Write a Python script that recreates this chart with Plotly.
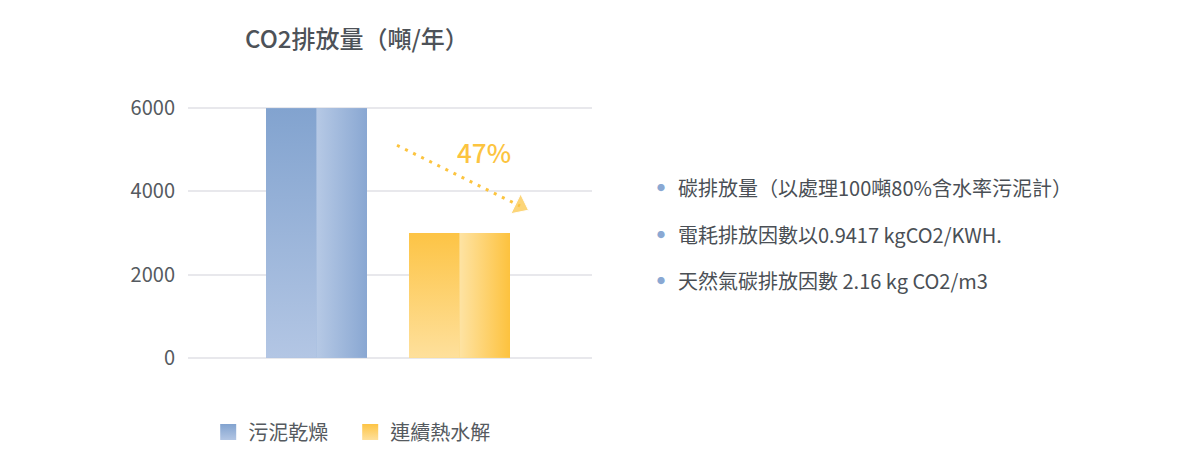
import plotly.graph_objects as go

# -- data
methods = ['污泥乾燥', '連續熱水解']
emissions = [6000, 3000]
bar_centers = [-0.715, 0.715]
bar_width = 1.01
y_ticks = [0, 2000, 4000, 6000]
reduction_label = '47%'
arrow_x = [0.09, 1.32]
arrow_y = [5110, 3650]
label_pos = (0.96, 4950)
notes = [
    '碳排放量（以處理100噸80%含水率污泥計）',
    '電耗排放因數以0.9417 kgCO2/KWH.',
    '天然氣碳排放因數 2.16 kg CO2/m3',
]

# -- colours: (legend, left top, left bottom, right left edge, right right edge)
palettes = [
    ('#97b2d9', '#82a3cf', '#b3c6e4', '#b6c9e5', '#89a7d2'),
    ('#fdd066', '#fdc445', '#fee09c', '#fee3a3', '#fdc23e'),
]

font_family = 'Noto Sans CJK TC, Noto Sans, sans-serif'
text_grey = '#555a60'

fig = go.Figure()

# base bars
for name, val, cx, pal in zip(methods, emissions, bar_centers, palettes):
    fig.add_trace(go.Bar(
        x=[cx], y=[val], width=bar_width, name=name, showlegend=False,
        marker=dict(color=pal[0], line=dict(width=0)),
        hoverinfo='skip'
    ))

# gradient halves drawn on top of each bar
for name, val, cx, pal in zip(methods, emissions, bar_centers, palettes):
    left, mid, right = cx - bar_width / 2, cx, cx + bar_width / 2
    fig.add_trace(go.Scatter(
        x=[left, mid, mid, left, left], y=[0, 0, val, val, 0],
        mode='none', fill='toself', showlegend=False, hoverinfo='skip',
        fillgradient=dict(type='vertical', colorscale=[[0, pal[2]], [1, pal[1]]])
    ))
    fig.add_trace(go.Scatter(
        x=[mid, right, right, mid, mid], y=[0, 0, val, val, 0],
        mode='none', fill='toself', showlegend=False, hoverinfo='skip',
        fillgradient=dict(type='horizontal', colorscale=[[0, pal[3]], [1, pal[4]]])
    ))

# legend entries (square icons with a light gradient)
for name, pal in zip(methods, palettes):
    fig.add_trace(go.Scatter(
        x=[None], y=[None], mode='markers', name=name,
        marker=dict(symbol='square', size=16, color=pal[1],
                    gradient=dict(type='vertical', color=pal[2]),
                    line=dict(width=0))
    ))

# dotted reduction arrow
fig.add_trace(go.Scatter(
    x=arrow_x, y=arrow_y, mode='lines+markers', showlegend=False, hoverinfo='skip',
    line=dict(color='#fcc43f', width=3, dash='3px,6px'),
    marker=dict(symbol='triangle-up', size=[0, 19], angleref='previous', color='#fcc43f')
))

annotations = [
    dict(x=label_pos[0], y=label_pos[1], xref='x', yref='y', text=reduction_label,
         showarrow=False, font=dict(size=26, color='#fcc43f', family=font_family, weight=500)),
    dict(x=0.418, y=1.247, xref='paper', yref='paper', text='CO2排放量（噸/年）',
         xanchor='center', yanchor='middle', showarrow=False,
         font=dict(size=24, color='#4d5258', family=font_family, weight=500)),
]
for i, note in enumerate(notes):
    yp = 0.675 - i * 0.179
    annotations.append(dict(x=1.171, y=yp, xref='paper', yref='paper', text='●',
                            xanchor='center', yanchor='middle', showarrow=False,
                            font=dict(size=8, color='#8aa8d3', family=font_family)))
    annotations.append(dict(x=1.208, y=yp, xref='paper', yref='paper', text=note,
                            xanchor='left', yanchor='middle', showarrow=False,
                            font=dict(size=20, color='#4a4f55', family=font_family)))

# page body has an 8px margin, so the figure is sized to fit inside the window
fig.update_layout(
    width=1192, height=456,
    margin=dict(l=180, r=608, t=94, b=100),
    plot_bgcolor='white', paper_bgcolor='white',
    barmode='overlay',
    font=dict(family=font_family, color=text_grey),
    xaxis=dict(range=[-2.0, 2.04], showticklabels=False, showgrid=False,
               zeroline=False, fixedrange=True),
    yaxis=dict(range=[-150, 6150], tickvals=y_ticks, showgrid=True,
               gridcolor='#e8e8ec', gridwidth=2, zeroline=False,
               tickfont=dict(size=20, color=text_grey), ticklabelstandoff=12),
    legend=dict(orientation='h', x=0.05, y=-0.26, xanchor='left', yanchor='middle',
                font=dict(size=20, color=text_grey), itemwidth=30,
                entrywidth=97, entrywidthmode='pixels'),
    annotations=annotations,
    showlegend=True,
)

fig.write_html('out.html')
